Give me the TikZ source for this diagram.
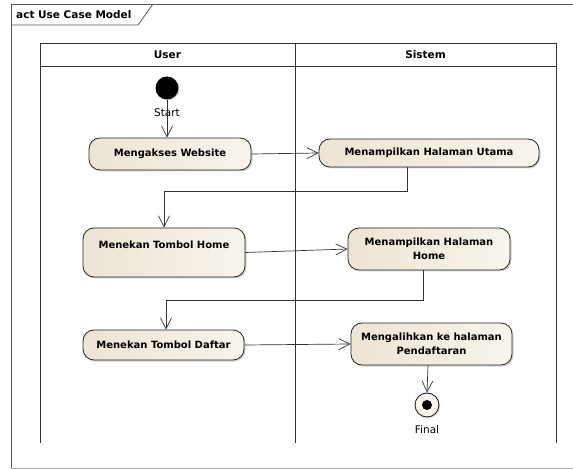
\documentclass[tikz,border=0pt]{standalone}
\usepackage{fontspec}
\setmainfont{DejaVu Sans}
\usetikzlibrary{arrows.meta,shadows,positioning}
\definecolor{actfill}{HTML}{EDE4D4}
\definecolor{actlight}{HTML}{F8F4EC}
\definecolor{framegray}{HTML}{555555}
\tikzset{
  actfont/.style={font=\fontsize{10}{14}\selectfont\bfseries},
  activity/.style={draw=black!85, line width=0.8pt, rounded corners=11pt,
    left color=actfill, right color=actlight, align=center,
    actfont, inner sep=0pt,
    drop shadow={shadow xshift=1.5pt, shadow yshift=-1.5pt, opacity=0.35, fill=black!50}},
  flow/.style={draw=black!80, line width=0.7pt, -{Straight Barb[length=11pt,width=11pt,line width=0.7pt]}},
  lane/.style={draw=black!80, line width=0.9pt},
  head/.style={font=\fontsize{10.5}{12}\selectfont\bfseries, inner sep=0pt},
  lbl/.style={font=\fontsize{10.5}{12}\selectfont, inner sep=0pt},
}
\begin{document}
\begin{tikzpicture}[x=1pt,y=-1pt]
\useasboundingbox[fill=white] (0,0) rectangle (573,470);

% diagram frame with name tab
\draw[framegray, line width=0.8pt] (574,4) -- (11,4) -- (11,468);
\draw[black!30, line width=0.8pt] (11,468) -- (574,468);
\draw[framegray, line width=0.8pt] (11,25) -- (138,25) -- (153,4);
\node[head, anchor=west] (tab) at (16,14.5) {act Use Case Model};

% swimlanes
\draw[lane] (40,443) -- (40,43) -- (556,43) -- (556,443);
\draw[lane] (40,66) -- (556,66);
\draw[lane] (295,43) -- (295,443);
\node[head] (user) at (167.5,54.5) {User};
\node[head] (sistem) at (425.5,54.5) {Sistem};

% start
\node[circle, fill=black, minimum size=23pt, inner sep=0pt,
      drop shadow={shadow xshift=1pt, shadow yshift=-1pt, opacity=0.3, fill=black!50}] (start) at (167,88) {};
\node[lbl] (startlbl) at (167,113) {Start};

% activities
\node[activity, minimum width=162pt, minimum height=32pt] (akses) at (170,154) {Mengakses Website};
\node[activity, minimum width=220pt, minimum height=28pt] (utama) at (429,153) {Menampilkan Halaman Utama};
\node[activity, minimum width=162pt, minimum height=49pt] (home) at (164,252.5) {};
\node[actfont, inner sep=0pt] (hometxt) at (164,245) {Menekan Tombol Home};
\node[activity, minimum width=162pt, minimum height=42pt] (mhome) at (429,249) {Menampilkan Halaman\\Home};
\node[activity, minimum width=161pt, minimum height=30pt] (daftar) at (163.5,345) {Menekan Tombol Daftar};
\node[activity, minimum width=161pt, minimum height=42pt] (alih) at (431.5,344) {Mengalihkan ke halaman\\Pendaftaran};

% final
\node[circle, draw=black!85, line width=0.9pt, fill=actlight, minimum size=24pt, inner sep=0pt,
      drop shadow={shadow xshift=1pt, shadow yshift=-1pt, opacity=0.3, fill=black!50}] (final) at (427,405) {};
\node[circle, fill=black, minimum size=10pt, inner sep=0pt] (finaldot) at (final.center) {};
\node[lbl] (finallbl) at (427,430) {Final};

% control flows
\draw[flow] (start.south) -- (akses.north -| start.south);
\draw[flow] (akses.east) -- (utama.west);
\draw[flow] (utama.south -| 407,0) -- (407,191) -- (164,191) -- (home.north);
\draw[flow] (home.east) -- (mhome.west);
\draw[flow] (mhome.south -| 423,0) -- (423,300) -- (166,300) -- (daftar.north -| 166,0);
\draw[flow] (daftar.east) -- (alih.west);
\draw[flow] (alih.south -| 428,0) -- (final.north);
\end{tikzpicture}
\end{document}
